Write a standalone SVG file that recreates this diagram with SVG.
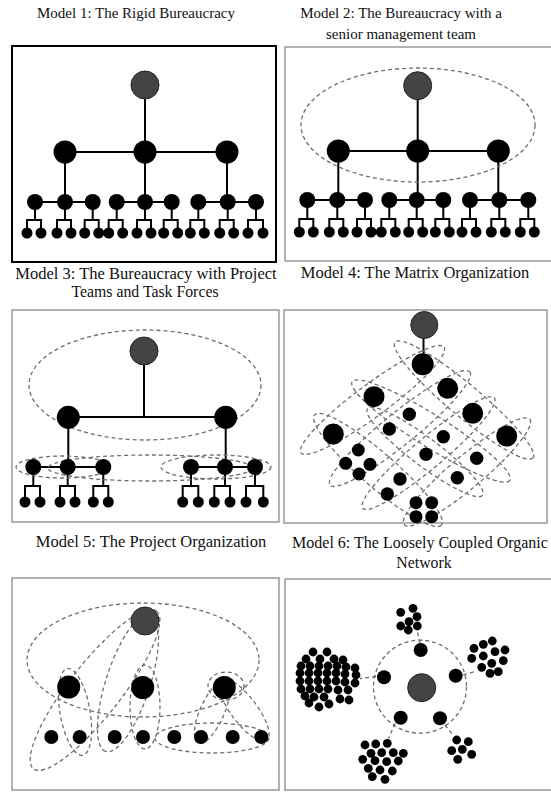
<svg xmlns="http://www.w3.org/2000/svg" width="551" height="801" viewBox="0 0 551 801">
<defs>
<style>
.t{font-family:"Liberation Serif","Times New Roman",serif;font-size:15px;fill:#111;text-anchor:middle}
.tl{font-size:16.5px}
.tm{font-size:15.8px}
.n{fill:#000}
.top{fill:#444;stroke:#222;stroke-width:1}
.ln{stroke:#000;stroke-width:2;fill:none}
.d{fill:none;stroke:#6e6e6e;stroke-width:1.3;stroke-dasharray:4 3}
.box{fill:#fff;stroke:#999;stroke-width:1.5}
</style>
</defs>
<rect width="551" height="801" fill="#fff"/>

<g id="titles">
<text class="t" x="136" y="18">Model 1: The Rigid Bureaucracy</text>
<text class="t" x="401" y="18">Model 2: The Bureaucracy with a</text>
<text class="t" x="401" y="39">senior management team</text>
<text class="t tl" x="146" y="279">Model 3: The Bureaucracy with Project</text>
<text class="t tm" x="145" y="297">Teams and Task Forces</text>
<text class="t tl" x="415" y="278">Model 4: The Matrix Organization</text>
<text class="t tl" x="151" y="547">Model 5: The Project Organization</text>
<text class="t" x="420" y="548" style="font-size:16px">Model 6: The Loosely Coupled Organic</text>
<text class="t tm" x="424" y="568">Network</text>
</g>

<g id="frames">
<rect x="12" y="46" width="264" height="216" fill="#fff" stroke="#000" stroke-width="2"/>
<rect class="box" x="285" y="47" width="270" height="214"/>
<rect class="box" x="12" y="310" width="267" height="212"/>
<rect class="box" x="284" y="310" width="263" height="213"/>
<rect class="box" x="12" y="578" width="267" height="212"/>
<rect class="box" x="285" y="579" width="270" height="211"/>
</g>

<!-- Panel 1 -->
<g id="p1-connectors" class="ln">
<path d="M145 85V152M65 152H227M65 152V202M227 152V202M145 152V202"/>
<path d="M35 202H92.7M116.7 202H171.7M198.3 202H256"/>
<path d="M35 202V220M27 233V220H41V233M65 202V220M57 233V220H71V233M92.7 202V220M84.7 233V220H98.7V233M116.7 202V220M108.7 233V220H122.7V233M145 202V220M137 233V220H151V233M171.7 202V220M163.7 233V220H177.7V233M198.3 202V220M190.3 233V220H204.3V233M227.7 202V220M219.7 233V220H233.7V233M256 202V220M248 233V220H263V233"/>
</g>
<g id="p1-nodes">
<circle class="top" cx="145" cy="85" r="14"/>
<g class="n">
<circle cx="65" cy="152" r="11.5"/><circle cx="145" cy="152" r="11.5"/><circle cx="227" cy="152" r="11.5"/>
<circle cx="35" cy="202" r="8"/><circle cx="65" cy="202" r="8"/><circle cx="92.7" cy="202" r="8"/>
<circle cx="116.7" cy="202" r="8"/><circle cx="145" cy="202" r="8"/><circle cx="171.7" cy="202" r="8"/>
<circle cx="198.3" cy="202" r="8"/><circle cx="227.7" cy="202" r="8"/><circle cx="256" cy="202" r="8"/>
<circle cx="27" cy="233" r="5.5"/><circle cx="41" cy="233" r="5.5"/>
<circle cx="57" cy="233" r="5.5"/><circle cx="71" cy="233" r="5.5"/>
<circle cx="84.7" cy="233" r="5.5"/><circle cx="98.7" cy="233" r="5.5"/>
<circle cx="108.7" cy="233" r="5.5"/><circle cx="122.7" cy="233" r="5.5"/>
<circle cx="137" cy="233" r="5.5"/><circle cx="151" cy="233" r="5.5"/>
<circle cx="163.7" cy="233" r="5.5"/><circle cx="177.7" cy="233" r="5.5"/>
<circle cx="190.3" cy="233" r="5.5"/><circle cx="204.3" cy="233" r="5.5"/>
<circle cx="219.7" cy="233" r="5.5"/><circle cx="233.7" cy="233" r="5.5"/>
<circle cx="248" cy="233" r="5.5"/><circle cx="263" cy="233" r="5.5"/>
</g>
</g>

<!-- Panel 2 -->
<g id="p2-connectors" class="ln">
<path d="M417.7 86V151M338.3 151H498.3M338.3 151V200M417.7 151V200M498.3 151V200"/>
<path d="M307.3 200H365M389.3 200H443.3M470 200H528.3"/>
<path d="M307.3 200V219M299.3 232V219H313.3V232M337.3 200V219M329.3 232V219H343.3V232M365 200V219M357 232V219H371V232M389.3 200V219M381.3 232V219H395.3V232M416.7 200V219M408.7 232V219H422.7V232M443.3 200V219M435.3 232V219H449.3V232M470 200V219M462 232V219H476V232M499.3 200V219M491.3 232V219H505.3V232M528.3 200V219M520.3 232V219H534.3V232"/>
</g>
<g id="p2-nodes">
<ellipse class="d" cx="418" cy="125" rx="117" ry="57"/>
<circle class="top" cx="417.7" cy="85.7" r="14"/>
<g class="n">
<circle cx="338.3" cy="151" r="11.5"/><circle cx="417.7" cy="151" r="11.5"/><circle cx="498.3" cy="151" r="11.5"/>
<circle cx="307.3" cy="200" r="8"/><circle cx="337.3" cy="200" r="8"/><circle cx="365" cy="200" r="8"/>
<circle cx="389.3" cy="200" r="8"/><circle cx="416.7" cy="200" r="8"/><circle cx="443.3" cy="200" r="8"/>
<circle cx="470" cy="200" r="8"/><circle cx="499.3" cy="200" r="8"/><circle cx="528.3" cy="200" r="8"/>
<circle cx="299.3" cy="232" r="5.5"/><circle cx="313.3" cy="232" r="5.5"/>
<circle cx="329.3" cy="232" r="5.5"/><circle cx="343.3" cy="232" r="5.5"/>
<circle cx="357" cy="232" r="5.5"/><circle cx="371" cy="232" r="5.5"/>
<circle cx="381.3" cy="232" r="5.5"/><circle cx="395.3" cy="232" r="5.5"/>
<circle cx="408.7" cy="232" r="5.5"/><circle cx="422.7" cy="232" r="5.5"/>
<circle cx="435.3" cy="232" r="5.5"/><circle cx="449.3" cy="232" r="5.5"/>
<circle cx="462" cy="232" r="5.5"/><circle cx="476" cy="232" r="5.5"/>
<circle cx="491.3" cy="232" r="5.5"/><circle cx="505.3" cy="232" r="5.5"/>
<circle cx="520.3" cy="232" r="5.5"/><circle cx="534.3" cy="232" r="5.5"/>
</g>
</g>

<!-- Panel 3 -->
<g id="p3-connectors" class="ln">
<path d="M144 351V417M68.3 417H225.7M68.3 417V467M225.7 417V467"/>
<path d="M33.3 467H103.3M191 467H255"/>
<path d="M33.3 467V486M25 502V486H40V502M67.7 467V486M60 502V486H75V502M103.3 467V486M93.3 502V486H108.3V502M191 467V486M182.7 502V486H198.3V502M225 467V486M214.3 502V486H230V502M255 467V486M246 502V486H263.3V502"/>
</g>
<g id="p3-nodes">
<ellipse class="d" cx="145" cy="385" rx="116" ry="55"/>
<ellipse class="d" cx="63" cy="467" rx="47" ry="11"/>
<ellipse class="d" cx="216" cy="467" rx="55" ry="12"/>
<ellipse class="d" cx="150" cy="468" rx="102" ry="13"/>
<circle class="top" cx="144" cy="351" r="14"/>
<g class="n">
<circle cx="68.3" cy="417.3" r="11.5"/><circle cx="225.7" cy="417.3" r="11.5"/>
<circle cx="33.3" cy="467" r="8"/><circle cx="67.7" cy="467" r="8"/><circle cx="103.3" cy="467" r="8"/>
<circle cx="191" cy="467" r="8"/><circle cx="225" cy="467" r="8"/><circle cx="255" cy="467" r="8"/>
<circle cx="25" cy="502" r="5.5"/><circle cx="40" cy="502" r="5.5"/>
<circle cx="60" cy="502" r="5.5"/><circle cx="75" cy="502" r="5.5"/>
<circle cx="93.3" cy="502" r="5.5"/><circle cx="108.3" cy="502" r="5.5"/>
<circle cx="182.7" cy="502" r="5.5"/><circle cx="198.3" cy="502" r="5.5"/>
<circle cx="214.3" cy="502" r="5.5"/><circle cx="230" cy="502" r="5.5"/>
<circle cx="246" cy="502" r="5.5"/><circle cx="263.3" cy="502" r="5.5"/>
</g>
</g>

<!-- Panel 4 -->
<g id="p4-connectors" class="ln">
<path d="M423.5 325V364"/>
</g>
<g id="p4-groups">
<ellipse class="d" cx="464" cy="400" rx="90" ry="16" transform="rotate(40 464 400)"/>
<ellipse class="d" cx="431" cy="431" rx="93" ry="16" transform="rotate(32 431 431)"/>
<ellipse class="d" cx="425" cy="452" rx="72" ry="14" transform="rotate(37 425 452)"/>
<ellipse class="d" cx="378" cy="470" rx="84" ry="17" transform="rotate(41 378 470)"/>
<ellipse class="d" cx="372.5" cy="400" rx="89" ry="16" transform="rotate(-36.5 372.5 400)"/>
<ellipse class="d" cx="400" cy="428.5" rx="90" ry="16" transform="rotate(-39 400 428.5)"/>
<ellipse class="d" cx="428.5" cy="453" rx="86" ry="15" transform="rotate(-40 428.5 453)"/>
<ellipse class="d" cx="467" cy="472" rx="82" ry="16" transform="rotate(-40 467 472)"/>
</g>
<g id="p4-nodes">
<circle class="top" cx="424.3" cy="325" r="13.5"/>
<g class="n">
<circle cx="422.7" cy="364.3" r="11"/>
<circle cx="447.7" cy="388.3" r="10.5"/><circle cx="472.7" cy="413.3" r="10.5"/><circle cx="506.7" cy="436" r="10.5"/>
<circle cx="374" cy="396.7" r="10.5"/><circle cx="333.3" cy="434" r="10.5"/>
<circle cx="409.3" cy="414.3" r="6.7"/><circle cx="389.3" cy="429" r="6.7"/><circle cx="443.3" cy="436.7" r="6.7"/>
<circle cx="426" cy="454.3" r="6.7"/><circle cx="476.7" cy="458.3" r="6.7"/><circle cx="400" cy="479" r="6.7"/>
<circle cx="457.3" cy="477.7" r="6.7"/><circle cx="387.3" cy="494" r="6.7"/>
<circle cx="358.3" cy="450" r="6.5"/><circle cx="345.7" cy="463.3" r="6.5"/><circle cx="370" cy="464.3" r="6.5"/><circle cx="359" cy="474" r="6.5"/>
<circle cx="416" cy="502.7" r="6.5"/><circle cx="431.7" cy="502.7" r="6.5"/><circle cx="416" cy="516.7" r="6.5"/><circle cx="431.7" cy="516.7" r="6.5"/>
</g>
</g>

<!-- Panel 5 -->
<g id="p5-groups">
<ellipse class="d" cx="143" cy="660" rx="116" ry="57"/>
<ellipse class="d" cx="95" cy="690" rx="100" ry="26" transform="rotate(-52 95 690)"/>
<ellipse class="d" cx="75" cy="712" rx="44" ry="15" transform="rotate(80 75 712)"/>
<ellipse class="d" cx="145" cy="707" rx="42" ry="15" transform="rotate(90 145 707)"/>
<ellipse class="d" cx="128" cy="683" rx="72" ry="22" transform="rotate(108 128 683)"/>
<ellipse class="d" cx="226" cy="686" rx="18" ry="14"/>
<ellipse class="d" cx="212" cy="712" rx="34" ry="12" transform="rotate(114 212 712)"/>
<ellipse class="d" cx="244" cy="710" rx="38" ry="13" transform="rotate(53 244 710)"/>
<ellipse class="d" cx="212" cy="738" rx="57" ry="15"/>
</g>
<g id="p5-nodes">
<circle class="top" cx="145" cy="621" r="14"/>
<g class="n">
<circle cx="68.7" cy="687" r="11.5"/><circle cx="142.7" cy="687.5" r="11.5"/><circle cx="224.3" cy="687.5" r="11.5"/>
<circle cx="51.3" cy="737" r="7"/><circle cx="79.7" cy="737" r="7"/><circle cx="114.7" cy="737" r="7"/><circle cx="143" cy="737" r="7"/>
<circle cx="174.3" cy="737" r="7"/><circle cx="201" cy="737" r="7"/><circle cx="232.7" cy="737" r="7"/><circle cx="261.3" cy="737" r="7"/>
</g>
</g>

<!-- Panel 6 -->
<g id="p6-connectors" class="d">
<circle cx="420" cy="686.7" r="46.5"/>
<path d="M420 643L417 630M463 675L475 671.5M445 725L453.5 735.5M395 723.5L388.5 738.5M376 676.5L360 678.5"/>
</g>
<g id="p6-nodes">
<circle class="top" cx="421.7" cy="687.7" r="14"/>
<g class="n">
<circle cx="420.7" cy="650" r="7"/><circle cx="455.7" cy="675.7" r="7"/><circle cx="440" cy="718.3" r="7"/>
<circle cx="400.7" cy="717.7" r="7"/><circle cx="384" cy="677.3" r="7"/>
</g>
<g id="p6-cluster-top" class="n">
<circle cx="400.7" cy="612.3" r="4.4"/><circle cx="413" cy="608.3" r="4.4"/><circle cx="417" cy="616.7" r="4.4"/>
<circle cx="409" cy="621.7" r="4.4"/><circle cx="400.7" cy="626" r="4.4"/><circle cx="408.3" cy="630" r="4.4"/><circle cx="417.3" cy="626" r="4.4"/>
</g>
<g id="p6-cluster-right" class="n">
<circle cx="474" cy="648.3" r="4.4"/><circle cx="483.3" cy="644.3" r="4.4"/><circle cx="492.3" cy="641" r="4.4"/><circle cx="505" cy="650" r="4.4"/>
<circle cx="471.7" cy="658.3" r="4.4"/><circle cx="483.3" cy="656" r="4.4"/><circle cx="495" cy="651.7" r="4.4"/><circle cx="503.3" cy="660.7" r="4.4"/>
<circle cx="481.7" cy="667.3" r="4.4"/><circle cx="491.7" cy="663.3" r="4.4"/><circle cx="490" cy="673.3" r="4.4"/><circle cx="498.3" cy="671.7" r="4.4"/>
</g>
<g id="p6-cluster-br" class="n">
<circle cx="456.7" cy="740" r="4.4"/><circle cx="468.3" cy="741.7" r="4.4"/><circle cx="451.7" cy="750.7" r="4.4"/>
<circle cx="462.3" cy="749.3" r="4.4"/><circle cx="471.7" cy="754.3" r="4.4"/><circle cx="457.7" cy="759.3" r="4.4"/>
</g>
<g id="p6-cluster-bl" class="n">
<circle cx="365" cy="745" r="4.4"/><circle cx="375.7" cy="744" r="4.4"/><circle cx="387.3" cy="743.3" r="4.4"/>
<circle cx="371" cy="753.3" r="4.4"/><circle cx="381.7" cy="752.7" r="4.4"/><circle cx="393.3" cy="752.7" r="4.4"/><circle cx="403.3" cy="753.3" r="4.4"/>
<circle cx="362.7" cy="759.3" r="4.4"/><circle cx="375" cy="760.7" r="4.4"/><circle cx="386.7" cy="761.7" r="4.4"/><circle cx="398.3" cy="761" r="4.4"/>
<circle cx="368.3" cy="768.3" r="4.4"/><circle cx="380" cy="770" r="4.4"/><circle cx="392.3" cy="771" r="4.4"/>
<circle cx="372.3" cy="776.7" r="4.4"/><circle cx="385" cy="779.3" r="4.4"/>
</g>
<g id="p6-cluster-left" class="n">
<circle cx="313" cy="652" r="4.4"/><circle cx="327" cy="652" r="4.4"/>
<circle cx="306" cy="659" r="4.4"/><circle cx="320" cy="659" r="4.4"/><circle cx="334" cy="659" r="4.4"/><circle cx="343" cy="660" r="4.4"/>
<circle cx="301" cy="666" r="4.4"/><circle cx="310" cy="666" r="4.4"/><circle cx="319" cy="666" r="4.4"/><circle cx="328" cy="666" r="4.4"/><circle cx="337" cy="666" r="4.4"/><circle cx="346" cy="667" r="4.4"/><circle cx="355" cy="668" r="4.4"/>
<circle cx="300" cy="673" r="4.4"/><circle cx="309" cy="673" r="4.4"/><circle cx="318" cy="673" r="4.4"/><circle cx="327" cy="673" r="4.4"/><circle cx="336" cy="673" r="4.4"/><circle cx="345" cy="674" r="4.4"/><circle cx="356" cy="675" r="4.4"/>
<circle cx="300" cy="681" r="4.4"/><circle cx="309" cy="681" r="4.4"/><circle cx="318" cy="681" r="4.4"/><circle cx="327" cy="681" r="4.4"/><circle cx="336" cy="681" r="4.4"/><circle cx="345" cy="682" r="4.4"/><circle cx="355" cy="683" r="4.4"/>
<circle cx="301" cy="689" r="4.4"/><circle cx="310" cy="689" r="4.4"/><circle cx="319" cy="689" r="4.4"/><circle cx="328" cy="689" r="4.4"/><circle cx="338" cy="690" r="4.4"/><circle cx="348" cy="690" r="4.4"/>
<circle cx="305" cy="696" r="4.4"/><circle cx="314" cy="697" r="4.4"/><circle cx="324" cy="697" r="4.4"/><circle cx="340" cy="699" r="4.4"/><circle cx="349" cy="700" r="4.4"/>
<circle cx="309" cy="703" r="4.4"/><circle cx="319" cy="707" r="4.4"/><circle cx="329" cy="704" r="4.4"/>
</g>
</g>
</svg>
